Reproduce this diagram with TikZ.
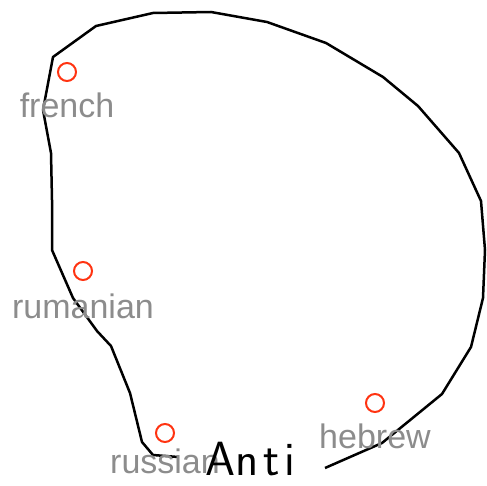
\documentclass[tikz,border=0pt]{standalone}
\usepackage{fontspec}
\newfontfamily\labelfont{Liberation Sans}
\usetikzlibrary{positioning}
\definecolor{dotred}{RGB}{255,51,17}
\definecolor{labelgray}{RGB}{140,140,140}

\begin{document}
\begin{tikzpicture}[
        x = 1pt, y = -1pt,
        every dot/.style = {circle, draw = dotred, line width = 2pt, minimum size = 18pt, inner sep = 0pt},
        every lang/.style = {text = labelgray, font = \labelfont\fontsize{34}{34}\selectfont, anchor = base},
        loop line/.style = {draw = black, line width = 2.5pt, line join = round}
    ]

      \useasboundingbox (0,0) rectangle (487,486);

      % the outline
      \path[loop line]
            (325,468) -- (382,443) -- (442,394) -- (471,347) -- (483,298)
            -- (485,250) -- (481,201) -- (459,153) -- (418,106) -- (383,77)
            -- (326,43) -- (267,22) -- (211,12) -- (153,13) -- (96,26)
            -- (53,57) -- (43,110) -- (51,153) -- (52,200) -- (52,250)
            -- (73,298) -- (97,331) -- (111,346) -- (130,393) -- (142,442)
            -- (153,455) -- (178,457);

      \node[every dot] (french) at (67,72) {};
      \node[every dot] (rumanian) at (83,271) {};
      \node[every dot] (russian) at (165,433) {};
      \node[every dot] (hebrew) at (375,403) {};

      \node[every lang] (french_l) at ([yshift = -46pt] french.center) {french};
      \node[every lang] (rumanian_l) at ([yshift = -47pt] rumanian.center) {rumanian};
      \node[every lang] (russian_l) at ([yshift = -40pt] russian.center) {russian};
      \node[every lang] (hebrew_l) at ([yshift = -45pt] hebrew.center) {hebrew};

      \node[anchor = base west, inner sep = 0pt, font = \sffamily\fontsize{48}{48}\selectfont] (anti) at (205,475) {An\kern5pt t\kern5pt i};

    \end{tikzpicture}
\end{document}
